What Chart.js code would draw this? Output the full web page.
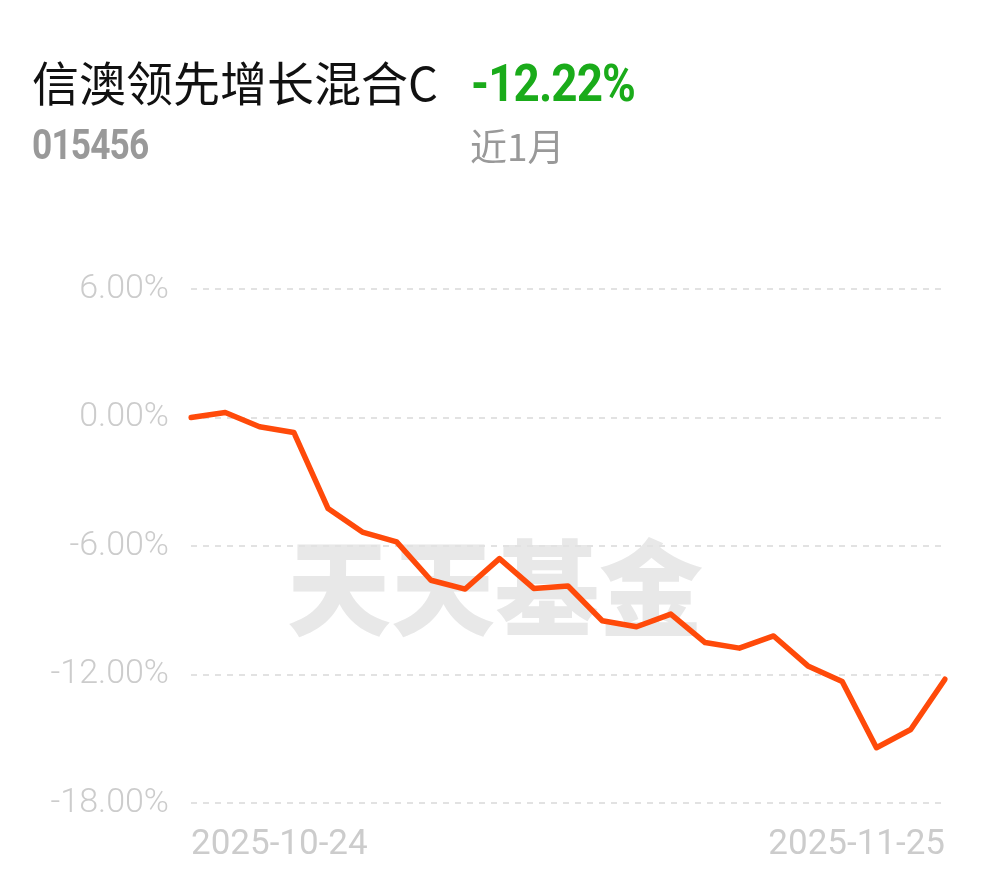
<!DOCTYPE html>
<html>
<head>
<meta charset="utf-8">
<script src="https://cdn.jsdelivr.net/npm/chart.js@4.4.1/dist/chart.umd.min.js"></script>
<style>
  html, body { margin: 0; padding: 0; background: #fff; }
  body { width: 990px; height: 878px; position: relative; overflow: hidden; font-family: "Noto Sans CJK SC", Roboto, sans-serif; }
  .t { position: absolute; white-space: nowrap; line-height: 1; transform-origin: 0 0; }
  #name { left: 32px; top: 57px; font-size: 47px; color: #111; font-family: "Noto Sans CJK SC", sans-serif; }
  #ret { left: 471px; top: 58px; font-size: 52px; font-weight: 700; color: #1aab1a; font-family: Roboto, sans-serif; letter-spacing: -1px; transform: scaleX(0.88); }
  #code { left: 32px; top: 124px; font-size: 42px; font-weight: 700; color: #999; font-family: Roboto, sans-serif; letter-spacing: -1px; transform: scaleX(0.84); }
  #period { left: 470px; top: 127px; font-size: 37px; color: #999; font-family: "Noto Sans CJK SC", sans-serif; }
  #wrap { position: absolute; left: 0; top: 0; width: 990px; height: 878px; }
</style>
</head>
<body>
<div id="wrap"><canvas id="c" width="990" height="878"></canvas></div>
<div class="t" id="name">信澳领先增长混合C</div>
<div class="t" id="ret">-12.22%</div>
<div class="t" id="code">015456</div>
<div class="t" id="period">近1月</div>
<script>
const dates = ['2025-10-24','2025-10-27','2025-10-28','2025-10-29','2025-10-30','2025-10-31',
  '2025-11-03','2025-11-04','2025-11-05','2025-11-06','2025-11-07',
  '2025-11-10','2025-11-11','2025-11-12','2025-11-13','2025-11-14',
  '2025-11-17','2025-11-18','2025-11-19','2025-11-20','2025-11-21',
  '2025-11-24','2025-11-25'];
const returns = [0.00, 0.23, -0.43, -0.70, -4.25, -5.35, -5.81, -7.60, -8.01, -6.59, -7.98,
  -7.87, -9.49, -9.77, -9.18, -10.51, -10.77, -10.20, -11.60, -12.33, -15.42, -14.57, -12.22];
const yTicks = [-18, -12, -6, 0, 6];
const watermarkText = '天天基金';

const watermark = {
  id: 'watermark',
  beforeDraw(chart) {
    const { ctx, chartArea } = chart;
    ctx.save();
    ctx.fillStyle = '#e8e8e8';
    ctx.font = '900 104px "Noto Sans CJK SC", sans-serif';
    ctx.textAlign = 'center';
    ctx.textBaseline = 'middle';
    const cx = (chartArea.left + chartArea.right) / 2 - 73;
    const cy = chartArea.top + (chartArea.bottom - chartArea.top) * 0.582;
    ctx.fillText(watermarkText, cx, cy);
    ctx.restore();
  }
};

new Chart(document.getElementById('c'), {
  type: 'line',
  data: {
    labels: dates,
    datasets: [{
      data: returns,
      borderColor: '#ff4a0a',
      borderWidth: 5.5,
      pointRadius: 0,
      pointHoverRadius: 0,
      tension: 0,
      fill: false,
      borderJoinStyle: 'round',
      borderCapStyle: 'round'
    }]
  },
  options: {
    responsive: false,
    animation: false,
    devicePixelRatio: 1,
    layout: { padding: { left: 0, right: 45, top: 289, bottom: 0 } },
    plugins: { legend: { display: false }, tooltip: { enabled: false }, title: { display: false } },
    scales: {
      x: {
        type: 'category',
        offset: false,
        grid: { display: false, drawTicks: false },
        border: { display: false },
        afterFit(scale) { scale.height = 75; },
        ticks: {
          autoSkip: false,
          maxRotation: 0,
          minRotation: 0,
          align: 'inner',
          padding: 21,
          color: '#cccccc',
          font: { family: 'Roboto, sans-serif', size: 35 },
          callback(v, i, arr) { return (i === 0 || i === arr.length - 1) ? dates[i] : ''; }
        }
      },
      y: {
        min: yTicks[0],
        max: yTicks[yTicks.length - 1],
        afterBuildTicks(scale) { scale.ticks = yTicks.map(v => ({ value: v })); },
        afterFit(scale) { scale.width = 191; },
        grid: { color: '#e2e2e2', lineWidth: 2, drawTicks: false },
        border: { display: false, dash: [6, 6] },
        ticks: {
          padding: 22,
          color: '#cccccc',
          font: { family: 'Roboto, sans-serif', size: 34, weight: 300 },
          callback(v) { return v.toFixed(2) + '%'; }
        }
      }
    }
  },
  plugins: [watermark]
});
</script>
</body>
</html>
